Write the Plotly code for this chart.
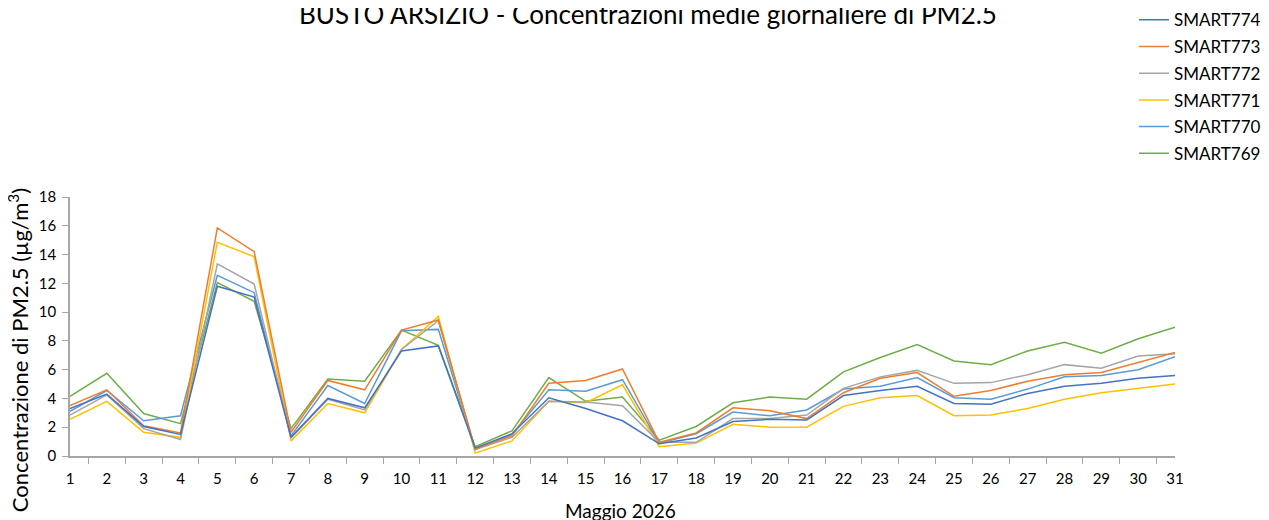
import plotly.graph_objects as go

days = [str(d) for d in range(1, 32)]

smart774 = [3.3, 4.3, 2.05, 1.5, 11.8, 11.05, 1.3, 4.0, 3.35, 7.3, 7.65, 0.55, 1.55, 4.05, 3.3, 2.45,
            0.85, 1.25, 2.4, 2.55, 2.5, 4.2, 4.55, 4.85, 3.65, 3.6, 4.35, 4.85, 5.05, 5.4, 5.6]
smart773 = [3.5, 4.6, 2.1, 1.6, 15.85, 14.2, 1.65, 5.25, 4.6, 8.75, 9.45, 0.5, 1.4, 5.05, 5.25, 6.05,
            0.95, 1.6, 3.35, 3.15, 2.6, 4.4, 5.4, 5.8, 4.15, 4.55, 5.2, 5.65, 5.8, 6.5, 7.2]
smart772 = [2.85, 4.25, 1.9, 1.15, 13.35, 11.95, 1.25, 3.95, 3.2, 7.4, 9.4, 0.45, 1.3, 3.8, 3.75, 3.5,
            0.95, 0.95, 2.6, 2.6, 2.85, 4.7, 5.5, 5.95, 5.05, 5.1, 5.65, 6.35, 6.1, 6.95, 7.1]
smart771 = [2.55, 3.8, 1.65, 1.3, 14.85, 13.85, 1.05, 3.65, 3.0, 7.4, 9.7, 0.2, 1.05, 3.8, 3.7, 4.95,
            0.65, 0.9, 2.2, 2.0, 2.0, 3.45, 4.05, 4.2, 2.8, 2.85, 3.3, 3.95, 4.4, 4.7, 5.0]
smart770 = [3.1, 4.55, 2.45, 2.8, 12.55, 11.35, 1.4, 4.9, 3.65, 8.7, 8.8, 0.45, 1.5, 4.6, 4.5, 5.3,
            0.9, 1.55, 3.05, 2.8, 3.2, 4.65, 4.85, 5.45, 4.05, 3.95, 4.65, 5.5, 5.6, 6.0, 6.9]
smart769 = [4.15, 5.75, 2.95, 2.25, 12.05, 10.75, 1.9, 5.35, 5.2, 8.75, 7.7, 0.65, 1.75, 5.45, 3.8, 4.1,
            1.1, 2.05, 3.7, 4.1, 3.95, 5.85, 6.85, 7.75, 6.6, 6.35, 7.3, 7.9, 7.15, 8.15, 8.95]

series = [
    ("SMART769", smart769, "#70AD47"),
    ("SMART770", smart770, "#5B9BD5"),
    ("SMART771", smart771, "#FFC000"),
    ("SMART772", smart772, "#A5A5A5"),
    ("SMART773", smart773, "#ED7D31"),
    ("SMART774", smart774, "#4472C4"),
]

FONT = "Lato"

fig = go.Figure()
n = len(series)
for i, (name, vals, col) in enumerate(series):
    fig.add_trace(go.Scatter(x=days, y=vals, name=name, mode="lines", legendgroup=name,
                             legendrank=1000 + (n - i),
                             line=dict(color=col, width=1.5)))

fig.update_layout(
    width=1261, height=512,
    paper_bgcolor="white", plot_bgcolor="white",
    margin=dict(l=62, r=94, t=189, b=64, autoexpand=False),
    font=dict(family=FONT, color="#262626", size=15),
    title=dict(text="BUSTO ARSIZIO - Concentrazioni medie giornaliere di PM2.5",
               x=0.5075, xanchor="center", y=0.986, yanchor="middle",
               font=dict(family=FONT, size=26, color="#000000")),
    legend=dict(x=0.9629, xanchor="left", y=1.752, yanchor="top",
                traceorder="grouped", font=dict(family=FONT, size=17, color="#000000"),
                bgcolor="rgba(0,0,0,0)", tracegroupgap=1.6),
    showlegend=True,
)

fig.update_xaxes(type="category", tickson="boundaries", ticks="outside", ticklen=6,
                 tickcolor="#A6A6A6", showline=True, linecolor="#A6A6A6", linewidth=1.5,
                 showgrid=False, zeroline=False, ticklabelstandoff=8, automargin=False,
                 tickfont=dict(size=15, color="#000000"))

fig.update_yaxes(range=[0, 18], dtick=2, ticks="outside", ticklen=6, tickcolor="#A6A6A6",
                 showline=True, linecolor="#A6A6A6", linewidth=1.5, automargin=False,
                 showgrid=False, zeroline=False, ticklabelstandoff=3,
                 tickfont=dict(size=15, color="#000000"))

fig.add_annotation(text="Concentrazione di PM2.5 (µg/m<sup>3</sup>)", textangle=-90,
                   xref="paper", yref="paper", x=-0.047, y=0.409, xanchor="center", yanchor="middle",
                   showarrow=False, font=dict(family=FONT, size=22, color="#000000"))

fig.add_annotation(text="Maggio 2026",
                   xref="paper", yref="paper", x=0.498, y=-0.2085, xanchor="center", yanchor="middle",
                   showarrow=False, font=dict(family=FONT, size=19, color="#000000"))

fig.write_html("out.html")
